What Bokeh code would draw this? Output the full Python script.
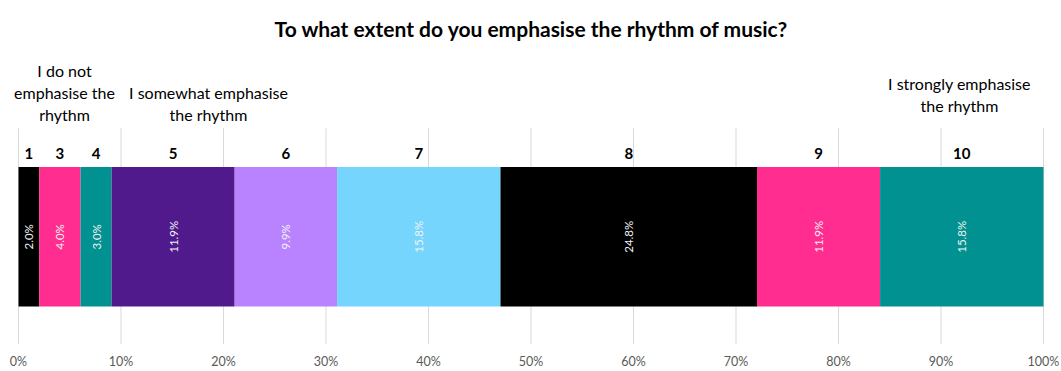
import numpy as np
from bokeh.plotting import figure
from bokeh.models import Range1d, Label, ColumnDataSource, FixedTicker
from bokeh.core.properties import value
from bokeh.embed import file_html
from bokeh.resources import INLINE

# ---- data ----
title_text = "To what extent do you emphasise the rhythm of music?"
categories = ["1", "3", "4", "5", "6", "7", "8", "9", "10"]
percents = [2.0, 4.0, 3.0, 11.9, 9.9, 15.8, 24.8, 11.9, 15.8]
colors = ["#000000", "#FF2D8F", "#009190", "#501A8C", "#B983FF",
          "#75D5FD", "#000000", "#FF2D8F", "#009190"]
tick_values = [0, 10, 20, 30, 40, 50, 60, 70, 80, 90, 100]
tick_labels = ["0%", "10%", "20%", "30%", "40%", "50%", "60%", "70%", "80%", "90%", "100%"]
anno_low = ["I do not", "emphasise the", "rhythm"]
anno_mid = ["I somewhat emphasise", "the rhythm"]
anno_high = ["I strongly emphasise", "the rhythm"]

FONT = "Lato"

W, H = 1061, 371
BOTTOM = 26
PX0, PX100 = 18, 1043          # screen x of 0% and 100%
frame_h = H - BOTTOM
GRID_TOP = 128

def py(pix):
    """screen y (from top) -> data y"""
    return (H - BOTTOM - pix) / frame_h

def xd(pix):
    """screen x -> data x (percent)"""
    return (pix - PX0) / (PX100 - PX0) * 100

vals = np.array(percents)
share = vals / vals.sum() * 100.0
right = np.cumsum(share)
left = right - share
mid = (left + right) / 2

src = ColumnDataSource(dict(
    cat=categories, left=left, right=right, mid=mid, color=colors,
    lbl=[f"{v:.1f}%" for v in percents],
    y=[py(237)] * len(categories),
    ytop=[py(153)] * len(categories),
))

p = figure(width=W, height=H, output_backend="svg", toolbar_location=None,
           x_range=Range1d(xd(0), xd(W)), y_range=Range1d(0, 1),
           min_border_left=0, min_border_right=0,
           min_border_top=0, min_border_bottom=BOTTOM)
p.outline_line_color = None
p.yaxis.visible = False
p.ygrid.visible = False
p.xgrid.visible = False
p.xaxis.ticker = FixedTicker(ticks=tick_values)
p.xaxis.major_label_overrides = {v: l for v, l in zip(tick_values, tick_labels)}
p.xaxis.axis_line_color = None
p.xaxis.major_tick_line_color = None
p.xaxis.minor_tick_line_color = None
p.xaxis.major_label_text_color = "#595959"
p.xaxis.major_label_text_font = FONT
p.xaxis.major_label_text_font_size = "12.5px"
p.xaxis.major_label_standoff = 3

# vertical gridlines restricted to chart area
p.segment(x0=tick_values, x1=tick_values, y0=[0] * len(tick_values),
          y1=[py(GRID_TOP)] * len(tick_values), line_color="#D9D9D9", line_width=1)

p.hbar(y="y", left="left", right="right", height=140 / frame_h,
       color="color", line_color=None, source=src)

p.text(x="mid", y="y", text="lbl", angle=np.pi / 2, source=src,
       text_align="center", text_baseline="middle",
       text_color="#F2F2F2", text_font=value(FONT), text_font_size="11.5px")

p.text(x="mid", y="ytop", text="cat", source=src,
       text_align="center", text_baseline="middle",
       text_color="#000000", text_font=value(FONT), text_font_size="15px",
       text_font_style="bold")

p.add_layout(Label(x=xd(531), y=py(28), text=title_text, text_align="center",
                   text_baseline="middle", text_font=FONT, text_font_size="21px",
                   text_font_style="bold", text_color="#000000"))

for lines, xc, ys in [(anno_low, 64, [70, 92, 114]),
                      (anno_mid, 208, [92, 114]),
                      (anno_high, 959, [83, 105])]:
    for t, yy in zip(lines, ys):
        p.add_layout(Label(x=xd(xc), y=py(yy), text=t, text_align="center",
                           text_baseline="middle", text_font=FONT,
                           text_font_size="16px", text_color="#000000"))

open("out.html", "w").write(file_html(p, INLINE))
